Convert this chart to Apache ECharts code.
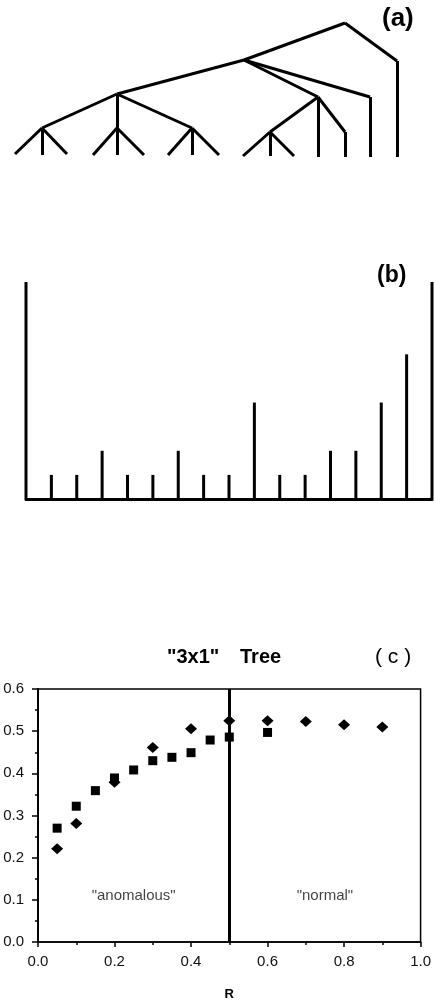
<!DOCTYPE html>
<html>
<head>
<meta charset="utf-8">
<script src="https://cdn.jsdelivr.net/npm/echarts@6/dist/echarts.min.js"></script>
<style>
  html, body { margin: 0; padding: 0; background: #fff; }
  #main { width: 434px; height: 1002px; }
</style>
</head>
<body>
<div id="main"></div>
<script>
const treeNodes = {
  root: [345, 23], n1: [244, 60], k1: [397, 61],
  n2: [117, 94], n3: [318, 97], k2: [370, 97],
  d: [42, 128], e: [117, 128], f: [192, 128],
  g: [270, 132], k3: [345, 132],
  d1: [15, 154], d2: [42, 155], d3: [67, 154],
  e1: [93, 155], e2: [117, 155], e3: [144, 155],
  f1: [168, 155], f2: [192, 155], f3: [219, 155],
  g1: [243, 156], g2: [270, 156], g3: [294, 156],
  c2: [318, 157], l3: [345, 157], l2: [370, 157], l1: [397, 157]
};
const treeLinks = [
  ['root', 'n1'], ['root', 'k1'], ['k1', 'l1'],
  ['n1', 'n2'], ['n1', 'n3'], ['n1', 'k2'], ['k2', 'l2'],
  ['n2', 'd'], ['n2', 'e'], ['n2', 'f'],
  ['d', 'd1'], ['d', 'd2'], ['d', 'd3'],
  ['e', 'e1'], ['e', 'e2'], ['e', 'e3'],
  ['f', 'f1'], ['f', 'f2'], ['f', 'f3'],
  ['n3', 'g'], ['n3', 'c2'], ['n3', 'k3'], ['k3', 'l3'],
  ['g', 'g1'], ['g', 'g2'], ['g', 'g3']
];

// (b) heights of the vertical lines, left to right
const bHeights = [9, 1, 1, 2, 1, 1, 2, 1, 1, 4, 1, 1, 2, 2, 4, 6, 9];

// (c) "3x1" tree
const rDiamond = [0.05, 0.1, 0.2, 0.3, 0.4, 0.5, 0.6, 0.7, 0.8, 0.9];
const yDiamond = [0.221, 0.281, 0.379, 0.461, 0.506, 0.525, 0.525, 0.523, 0.515, 0.510];
const rSquare = [0.05, 0.1, 0.15, 0.2, 0.25, 0.3, 0.35, 0.4, 0.45, 0.5, 0.6];
const ySquare = [0.270, 0.322, 0.359, 0.389, 0.408, 0.430, 0.438, 0.449, 0.479, 0.486, 0.497];
const xTicks = [0, 0.2, 0.4, 0.6, 0.8, 1.0];
const yTicks = [0, 0.1, 0.2, 0.3, 0.4, 0.5, 0.6];
const regionLabels = [['"anomalous"', 0.25, 0.11], ['"normal"', 0.75, 0.11]];

const font = '"Liberation Sans", Arial, sans-serif';
const chart = echarts.init(document.getElementById('main'));

const treeData = treeLinks.map(l => ({ coords: [treeNodes[l[0]], treeNodes[l[1]]] }));
const bData = bHeights.map((h, i) => [i, h]);

chart.setOption({
  animation: false,
  backgroundColor: '#fff',
  textStyle: { fontFamily: font },
  grid: [
    { left: 0, right: 0, top: 0, height: 170 },
    { left: 26, right: 2, top: 282, bottom: 503 },
    { left: 38, right: 11, top: 689, bottom: 57, show: true,
      borderColor: '#000', borderWidth: 1.5, backgroundColor: 'transparent' }
  ],
  xAxis: [
    { gridIndex: 0, type: 'value', min: 0, max: 434, show: false },
    { gridIndex: 1, type: 'value', min: 0, max: 16,
      axisLine: { lineStyle: { color: '#000', width: 3 } },
      axisTick: { show: false }, axisLabel: { show: false }, splitLine: { show: false } },
    { gridIndex: 2, type: 'value', min: 0, max: 1, interval: 0.2,
      name: 'R', nameLocation: 'middle', nameGap: 46,
      nameTextStyle: { fontWeight: 'bold', fontSize: 13, color: '#000', fontFamily: font },
      axisLine: { lineStyle: { color: '#000', width: 1.5 } },
      axisTick: { length: 5, lineStyle: { color: '#000', width: 1.5 } },
      minorTick: { show: true, splitNumber: 2, length: 3, lineStyle: { color: '#000', width: 1.5 } },
      splitLine: { show: false },
      axisLabel: { fontSize: 15, color: '#111', margin: 12,
        formatter: v => xTicks.includes(+v.toFixed(1)) ? v.toFixed(1) : '' } }
  ],
  yAxis: [
    { gridIndex: 0, type: 'value', min: 0, max: 170, inverse: true, show: false },
    { gridIndex: 1, type: 'value', min: 0, max: 9, show: false },
    { gridIndex: 2, type: 'value', min: 0, max: 0.6, interval: 0.1,
      axisLine: { lineStyle: { color: '#000', width: 2 } },
      axisTick: { length: 6, lineStyle: { color: '#000', width: 1.5 } },
      minorTick: { show: true, splitNumber: 2, length: 3, lineStyle: { color: '#000', width: 1.5 } },
      splitLine: { show: false },
      axisLabel: { fontSize: 15, color: '#111', margin: 14,
        formatter: v => yTicks.includes(+v.toFixed(1)) ? v.toFixed(1) : '' } }
  ],
  graphic: [
    { type: 'text', left: 382, top: 6, style: { text: '(a)', font: 'bold 26px ' + font, fill: '#000' } },
    { type: 'text', left: 377, top: 264, style: { text: '(b)', font: 'bold 23px ' + font, fill: '#000' } },
    { type: 'text', left: 167, top: 647, style: { text: '"3x1"', font: 'bold 20px ' + font, fill: '#000' } },
    { type: 'text', left: 240, top: 647, style: { text: 'Tree', font: 'bold 20px ' + font, fill: '#000' } },
    { type: 'text', left: 375, top: 647, style: { text: '( c )', font: '21px ' + font, fill: '#000' } }
  ],
  series: [
    {
      type: 'lines', coordinateSystem: 'cartesian2d', xAxisIndex: 0, yAxisIndex: 0,
      data: treeData, lineStyle: { color: '#000', width: 3, opacity: 1 }, symbol: 'none'
    },
    {
      type: 'bar', xAxisIndex: 1, yAxisIndex: 1, data: bData, barWidth: 3,
      itemStyle: { color: '#000' }
    },
    {
      type: 'scatter', xAxisIndex: 2, yAxisIndex: 2, symbol: 'diamond', symbolSize: [12, 11],
      data: rDiamond.map((r, i) => [r, yDiamond[i]]), itemStyle: { color: '#000', opacity: 1 },
      markLine: {
        silent: true, symbol: 'none', label: { show: false },
        lineStyle: { color: '#000', width: 3, type: 'solid' },
        data: [{ xAxis: 0.5 }]
      }
    },
    {
      type: 'scatter', xAxisIndex: 2, yAxisIndex: 2, symbol: 'rect', symbolSize: 9,
      data: rSquare.map((r, i) => [r, ySquare[i]]), itemStyle: { color: '#000', opacity: 1 }
    },
    {
      type: 'scatter', xAxisIndex: 2, yAxisIndex: 2, symbolSize: 0, silent: true,
      data: regionLabels.map(d => ({ name: d[0], value: [d[1], d[2]] })),
      label: { show: true, position: 'inside', formatter: '{b}', fontSize: 15, color: '#111', fontFamily: font }
    }
  ]
});
</script>
</body>
</html>
